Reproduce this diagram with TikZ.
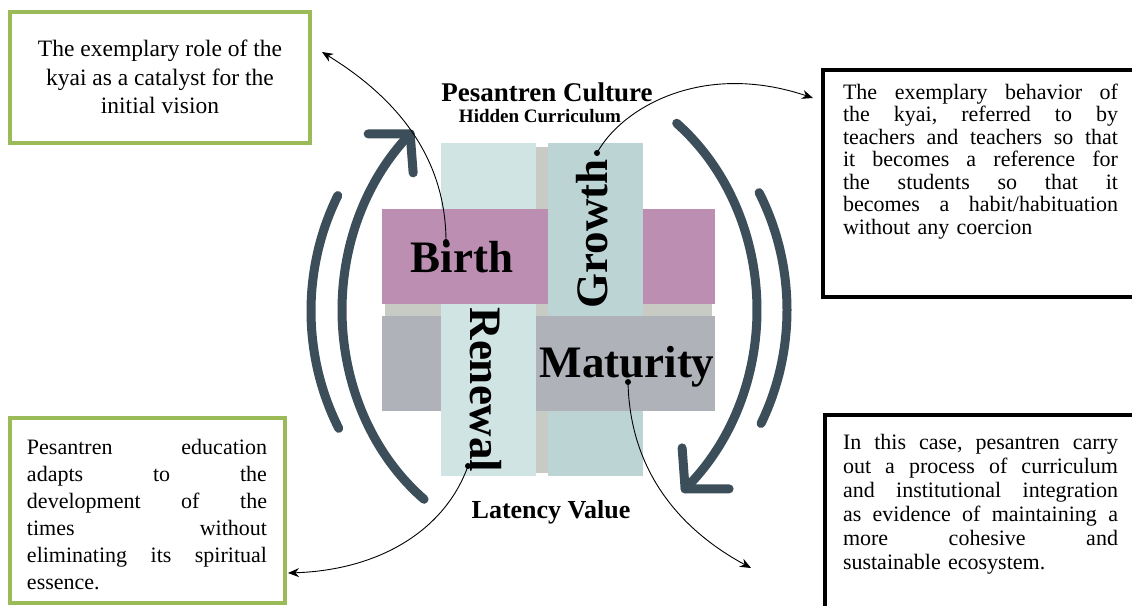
\documentclass[tikz,border=0pt]{standalone}
\usepackage{fontspec}
\setmainfont{Liberation Serif}
\usetikzlibrary{arrows.meta,calc}
\definecolor{pinkbar}{RGB}{188,143,178}
\definecolor{cyanbar}{RGB}{208,228,228}
\definecolor{tealbar}{RGB}{189,212,212}
\definecolor{matbar}{RGB}{176,178,186}
\definecolor{graybg}{RGB}{200,203,196}
\definecolor{arcc}{RGB}{59,78,90}
\definecolor{greenc}{RGB}{155,187,89}
\newcommand\jlw[2]{\leavevmode\hbox to #1{#2}}
\begin{document}
\begin{tikzpicture}[x=1pt,y=-1pt,
  arcline/.style={draw=arcc,line width=9pt,line cap=round,line join=round},
  conn/.style={draw=black,line width=0.9pt,-{Stealth[length=11pt,width=9pt]}},
  gbox/.style={draw=greenc,line width=3.5pt,fill=white,rectangle,inner sep=0pt},
  kbox/.style={draw=black,line width=4pt,fill=white,rectangle,inner sep=0pt},
  txt/.style={inner sep=0pt,outer sep=0pt},
  biglabel/.style={inner sep=0pt,font=\bfseries\fontsize{45}{45}\selectfont},
  bartitle/.style={inner sep=0pt,font=\bfseries}]
\clip (0,0) rectangle (1132,605);
\fill[white] (0,0) rectangle (1132,605);

% --- woven square ---
\fill[graybg] (536,147) rectangle (548,473);
\fill[graybg] (385,304) rectangle (712,316);
\fill[tealbar] (548,143) rectangle (643,476);
\fill[matbar] (382,316) rectangle (715,411);
\fill[cyanbar] (441,143) rectangle (536,476);
\fill[pinkbar] (382,209) rectangle (715,304);
\fill[tealbar] (548,143) rectangle (643,316);

\node[biglabel,anchor=base] (birth) at (462,272) {Birth};
\node[biglabel,rotate=90] (growth) at (592,234) {Growth};
\node[biglabel,rotate=-90] (renewal) at (486,390) {Renewal};
\node[biglabel,anchor=base] (maturity) at (627,377) {Maturity};

\node[bartitle,anchor=base,font=\bfseries\fontsize{27}{27}\selectfont] (culture) at (547,101) {Pesantren Culture};
\node[bartitle,anchor=base,font=\bfseries\fontsize{19}{19}\selectfont] (hidden) at (540,122) {Hidden Curriculum};
\node[bartitle,anchor=base,font=\bfseries\fontsize{26}{26}\selectfont] (latency) at (551,518) {Latency Value};

% --- cycle arcs ---
\draw[arcline] plot[domain=127:228,samples=80] ({548+206*cos(\x)},{310+237*sin(\x)});
\coordinate (ltip) at ({548+206*cos(228)},{310+237*sin(228)});
\draw[arcline] ($(ltip)+(-42,0)$) -- (ltip) -- ($(ltip)+(3,39)$);
\draw[arcline] plot[domain=152:207.5,samples=60] ({548+237*cos(\x)},{311+250*sin(\x)});

\draw[arcline] plot[domain=-52:49,samples=80] ({548+209*cos(\x)},{310+237*sin(\x)});
\coordinate (rtip) at ({548+209*cos(49)},{310+237*sin(49)});
\draw[arcline] ($(rtip)+(-3,-41)$) -- (rtip) -- ($(rtip)+(44,0)$);
\draw[arcline] plot[domain=-28:27,samples=60] ({549+238*cos(\x)},{310+250*sin(\x)});

% --- callout boxes ---
\node[gbox,minimum width=300pt,minimum height=131pt] (tlbox) at (160,77.5) {};
\node[gbox,minimum width=275pt,minimum height=185pt] (blbox) at (147.5,510.5) {};
\node[kbox,minimum width=327pt,minimum height=227pt] (trbox) at (986.5,183.5) {};
\node[kbox,minimum width=325pt,minimum height=235pt] (brbox) at (987.5,532.5) {};

\node[txt,anchor=north,align=center,font=\fontsize{23.5}{28.5}\selectfont] (tltext) at (160,40)
  {The exemplary role of the\\kyai as a catalyst for the\\initial vision};

\node[txt,anchor=north west,align=left,text width=275pt,font=\fontsize{22}{22.5}\selectfont] (trtext) at (843,84)
  {\jlw{275pt}{The\hfill exemplary\hfill behavior\hfill of}\\
   \jlw{275pt}{the\hfill kyai,\hfill referred\hfill to\hfill by}\\
   \jlw{275pt}{teachers\hfill and\hfill teachers\hfill so\hfill that}\\
   \jlw{275pt}{it\hfill becomes\hfill a\hfill reference\hfill for}\\
   \jlw{275pt}{the\hfill students\hfill so\hfill that\hfill it}\\
   \jlw{275pt}{becomes\hfill a\hfill habit/habituation}\\
   without any coercion};

\node[txt,anchor=north west,align=left,text width=275pt,font=\fontsize{22}{24}\selectfont] (brtext) at (843,434)
  {\jlw{275pt}{In\hfill this\hfill case,\hfill pesantren\hfill carry}\\
   \jlw{275pt}{out\hfill a\hfill process\hfill of\hfill curriculum}\\
   \jlw{275pt}{and\hfill institutional\hfill integration}\\
   \jlw{275pt}{as\hfill evidence\hfill of\hfill maintaining\hfill a}\\
   \jlw{275pt}{more\hfill cohesive\hfill and}\\
   sustainable ecosystem.};

\node[txt,anchor=north west,align=left,text width=240pt,font=\fontsize{22}{27}\selectfont] (bltext) at (27,439)
  {\jlw{240pt}{Pesantren\hfill education}\\
   \jlw{240pt}{adapts\hfill to\hfill the}\\
   \jlw{240pt}{development\hfill of\hfill the}\\
   \jlw{240pt}{times\hfill without}\\
   \jlw{240pt}{eliminating\hfill its\hfill spiritual}\\
   essence.};

% --- connectors ---
\coordinate (bdot) at (446,242);
\coordinate (bend) at (322,52);
\coordinate (gdot) at (597,153);
\coordinate (gend) at (813,98);
\coordinate (mdot) at (628,382);
\coordinate (mend) at (751,568);
\coordinate (rdot) at (468,466);
\coordinate (rend) at (288,573);

\draw[conn] (bdot) .. controls (446,160) and (400,100) .. (bend);
\draw[conn] (gdot) .. controls (620,110) and (700,60) .. (gend);
\draw[conn] (mdot) .. controls (630,480) and (690,535) .. (mend);
\draw[conn] (rdot) .. controls (445,530) and (380,570) .. (rend);
\foreach \d in {bdot,gdot,mdot,rdot} \fill[black] (\d) circle (3pt);
\end{tikzpicture}
\end{document}
